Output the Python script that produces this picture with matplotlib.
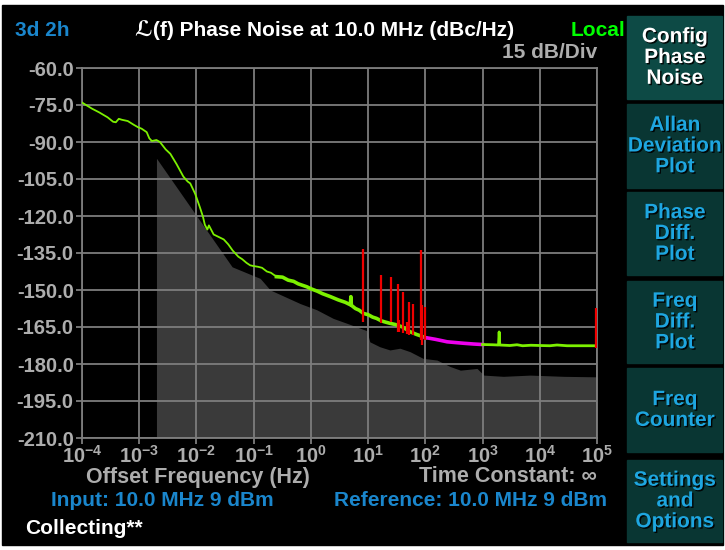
from matplotlib import pyplot as plt
from matplotlib.patches import Rectangle
import matplotlib.patheffects as pe

# curve data (offset Hz, dBc/Hz)
trace_lo_f = [1.0e-4, 1.5e-4, 2.0e-4, 2.8e-4, 3.5e-4, 3.9e-4, 4.4e-4, 5.0e-4, 6.3e-4, 8.0e-4,
              9.5e-4, 1.1e-3, 1.35e-3, 1.5e-3, 1.66e-3, 2.0e-3, 2.3e-3, 2.9e-3, 3.5e-3, 4.5e-3,
              5.9e-3, 7.0e-3, 7.8e-3, 9.5e-3, 1.15e-2, 1.3e-2, 1.4e-2, 1.55e-2, 1.65e-2, 2.0e-2,
              2.4e-2, 3.0e-2, 3.6e-2, 4.3e-2, 5.4e-2, 6.3e-2, 7.5e-2, 8.7e-2, 0.1, 0.12,
              0.14, 0.17, 0.2, 0.25]
trace_lo_db = [-74.0, -76.5, -78.0, -80.0, -81.8, -82.0, -80.6, -81.0, -81.5, -83.0,
               -84.0, -84.6, -86.0, -88.5, -89.6, -89.2, -90.0, -93.0, -94.8, -99.0,
               -104.0, -106.0, -106.8, -111.0, -116.5, -120.3, -123.5, -125.5, -123.8, -127.5,
               -128.4, -129.5, -131.5, -134.0, -136.5, -137.5, -139.0, -140.0, -140.3, -140.6,
               -141.0, -142.5, -143.0, -144.6]

trace_mid_f = [0.25, 0.32, 0.4, 0.5, 0.6, 0.85, 1.0, 1.3, 1.6, 2.2, 3.0, 4.0, 4.9, 5.0, 5.1,
               6.0, 7.0, 8.3, 10.0, 12.0, 14.0, 17.0, 20.0, 24.0, 30.0, 40.0, 54.0, 70.0, 93.0, 100.0]
trace_mid_db = [-144.6, -144.8, -146.0, -146.5, -147.5, -148.7, -149.5, -150.5, -151.5, -152.7,
                -154.0, -155.0, -156.0, -152.7, -156.2, -157.5, -158.2, -159.5, -160.0, -161.0,
                -161.5, -162.5, -163.0, -163.5, -164.0, -165.0, -166.9, -168.0, -169.0, -169.3]

trace_mag_f = [100.0, 120.0, 150.0, 200.0, 240.0, 300.0, 470.0, 700.0, 1000.0]
trace_mag_db = [-169.3, -169.6, -170.0, -170.6, -171.0, -171.2, -171.6, -171.9, -172.1]

trace_hi_f = [1000.0, 1500.0, 1900.0, 1950.0, 2000.0, 3000.0, 4000.0, 5000.0, 7000.0,
              1.0e4, 1.5e4, 2.0e4, 3.0e4, 5.0e4, 1.0e5]
trace_hi_db = [-172.1, -172.2, -172.3, -167.0, -172.3, -172.5, -172.2, -172.6, -172.4,
               -172.5, -172.6, -172.3, -172.6, -172.6, -172.6]

spur_f = [8.1, 16.6, 25.1, 33.1, 35.0, 40.7, 48.0, 51.3, 60.3, 83.2, 89.1, 100.0, 95000.0]
spur_top = [-133.4, -143.9, -144.9, -147.6, -162.0, -150.7, -163.0, -154.7, -155.7, -133.8, -156.1, -156.8, -157.4]
spur_bot = [-162.8, -163.5, -162.8, -166.9, -167.0, -167.6, -168.0, -168.2, -168.2, -170.3, -172.3, -170.3, -173.6]

floor_f = [2.0e-3, 4.2e-2, 0.13, 0.195, 0.65, 1.26, 2.45, 4.9, 9.5, 10.7, 16.0, 24.0, 36.0, 54.0,
           91.0, 160.0, 270.0, 410.0, 800.0, 1050.0, 2300.0, 6800.0, 26000.0, 1.0e5]
floor_db = [-96.6, -140.6, -145.3, -150.0, -155.5, -158.0, -161.5, -164.0, -166.5, -171.0, -173.0,
            -174.3, -173.6, -175.0, -177.7, -178.4, -181.0, -182.5, -181.8, -184.5, -185.0, -184.5,
            -185.0, -185.2]

x_ticks = [1e-4, 1e-3, 1e-2, 1e-1, 1e0, 1e1, 1e2, 1e3, 1e4, 1e5]
x_labels = [r'$\mathregular{10^{-4}}$', r'$\mathregular{10^{-3}}$', r'$\mathregular{10^{-2}}$',
            r'$\mathregular{10^{-1}}$', r'$\mathregular{10^{0}}$', r'$\mathregular{10^{1}}$',
            r'$\mathregular{10^{2}}$', r'$\mathregular{10^{3}}$', r'$\mathregular{10^{4}}$',
            r'$\mathregular{10^{5}}$']
y_ticks = [-60, -75, -90, -105, -120, -135, -150, -165, -180, -195, -210]
y_labels = ['-60.0', '-75.0', '-90.0', '-105.0', '-120.0', '-135.0', '-150.0', '-165.0',
            '-180.0', '-195.0', '-210.0']

buttons = [('Config\nPhase\nNoise', True), ('Allan\nDeviation\nPlot', False),
           ('Phase\nDiff.\nPlot', False), ('Freq\nDiff.\nPlot', False),
           ('Freq\nCounter', False), ('Settings\nand\nOptions', False)]

W, H = 725, 550
MAIN = ['Liberation Sans', 'DejaVu Sans']
GREY = '#adadad'
BLUE = '#1a86cc'

plt.rcParams['mathtext.fontset'] = 'custom'
plt.rcParams['mathtext.rm'] = 'Liberation Sans:bold'
plt.rcParams['mathtext.sf'] = 'Liberation Sans:bold'


def fx(px):
    return px / W


def fy(py):
    return 1 - py / H


fig = plt.figure(figsize=(7.25, 5.5), dpi=100)
fig.patch.set_facecolor('white')
fig.add_artist(Rectangle((fx(2), fy(545)), fx(721), 540 / H, transform=fig.transFigure,
                         color='black', zorder=0))

ax = fig.add_axes([fx(82), fy(438), fx(515), 370 / H])
ax.set_facecolor('black')
ax.set_xscale('log')
ax.set_xlim(1e-4, 1e5)
ax.set_ylim(-210, -60)

ax.fill_between(floor_f, floor_db, -210, color='#3a3a3a', lw=0, zorder=1)
ax.plot(trace_lo_f, trace_lo_db, color='#7cf000', lw=1.3, zorder=3)
ax.plot(trace_mid_f, trace_mid_db, color='#7cf000', lw=2.6, zorder=3)
ax.plot(trace_mag_f, trace_mag_db, color='#ee00ee', lw=2.6, zorder=3)
ax.plot(trace_hi_f, trace_hi_db, color='#7cf000', lw=2.0, zorder=3)
ax.vlines(spur_f, spur_bot, spur_top, color='#f00000', lw=1.6, zorder=4)

ax.set_xticks(x_ticks)
ax.set_xticklabels(x_labels)
ax.minorticks_off()
ax.set_yticks(y_ticks)
ax.set_yticklabels(y_labels)
ax.grid(True, color='#7d7d7d', lw=1.3)
ax.tick_params(colors='#7d7d7d', length=4, width=1.3, labelcolor=GREY, pad=2)
ax.tick_params(axis='x', pad=1)
for lab in ax.get_xticklabels() + ax.get_yticklabels():
    lab.set_fontfamily(MAIN)
    lab.set_fontweight('bold')
    lab.set_fontsize(14.5)
for sp in ax.spines.values():
    sp.set_color('#7d7d7d')
    sp.set_linewidth(1.3)


def label(px, py, s, color, ha='left', size=15):
    fig.text(fx(px), fy(py), s, color=color, ha=ha, va='center', fontsize=size,
             fontweight='bold', family=MAIN)


label(15, 30, '3d 2h', BLUE)
label(325, 30, '\u2112(f) Phase Noise at 10.0 MHz (dBc/Hz)', 'white', ha='center')
label(625, 30, 'Local', '#00ff00', ha='right')
label(597, 53, '15 dB/Div', GREY, ha='right')
label(198, 477, 'Offset Frequency (Hz)', GREY, ha='center', size=15.5)
label(597, 477, 'Time Constant: \u221e', GREY, ha='right', size=15.5)
label(162, 501, 'Input: 10.0 MHz 9 dBm', BLUE, ha='center')
label(607, 501, 'Reference: 10.0 MHz 9 dBm', BLUE, ha='right')
label(25, 529, 'Collecting**', 'white')

# side menu
tops = [16, 104, 192, 281, 368, 460]
bottoms = [99, 188, 275, 363, 452, 542]
for (txt, active), t, b in zip(buttons, tops, bottoms):
    fig.add_artist(Rectangle((fx(627), fy(b)), fx(95), (b - t) / H, transform=fig.transFigure,
                             color='#0d4a45' if active else '#093633', zorder=5))
    fig.text(fx(675), fy((t + b) / 2), txt, ha='center', va='center', fontsize=15,
             fontweight='bold', family=['Liberation Sans', 'DejaVu Sans'],
             color='white' if active else '#1ea6e0', linespacing=1.12, zorder=6,
             path_effects=[pe.withSimplePatchShadow(offset=(1, -1), shadow_rgbFace='black', alpha=0.9)])

fig.savefig('out.png', dpi=100, facecolor=fig.get_facecolor())
